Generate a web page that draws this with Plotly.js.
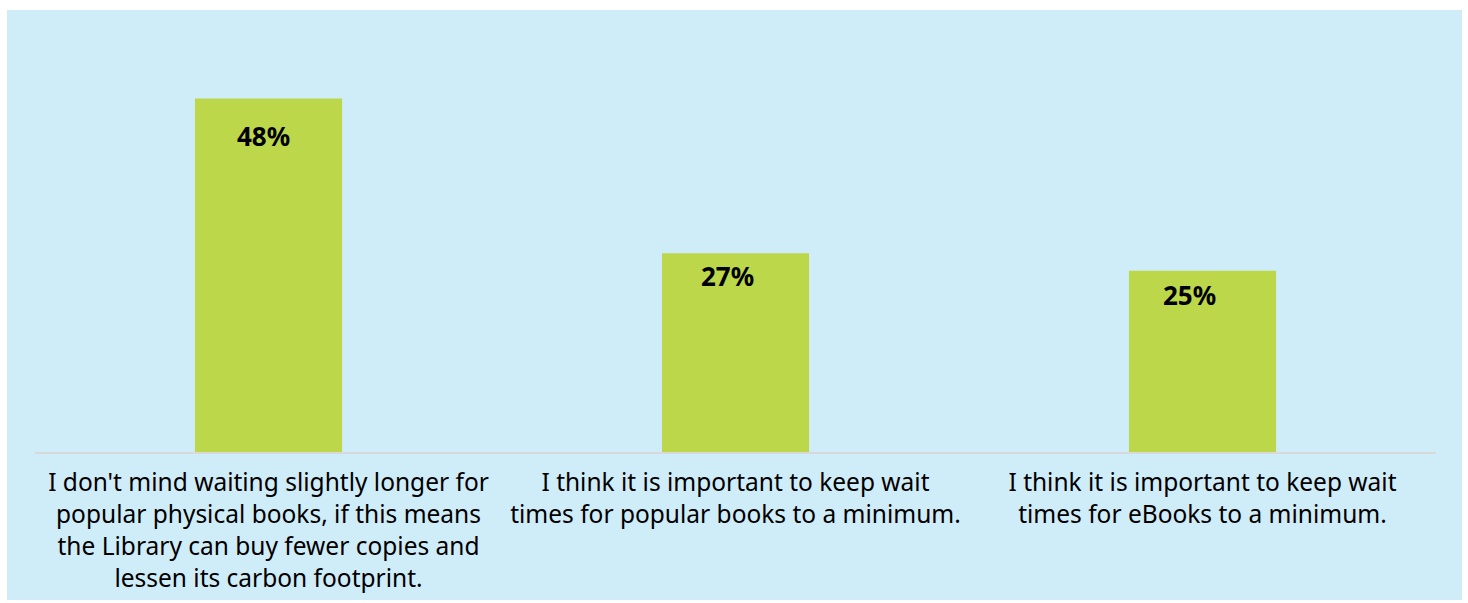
<!DOCTYPE html>
<html>
<head>
<meta charset="utf-8">
<script src="https://cdn.plot.ly/plotly-3.0.1.min.js"></script>
<style>
html,body{margin:0;padding:0;background:#ffffff;}
#chart{position:absolute;left:7px;top:10px;width:1455px;height:590px;}
</style>
</head>
<body>
<div id="chart"></div>
<script>
const categories = [
  "I don't mind waiting slightly longer for<br>popular physical books, if this means<br>the Library can buy fewer copies and<br>lessen its carbon footprint.",
  "I think it is important to keep wait<br>times for popular books to a minimum.",
  "I think it is important to keep wait<br>times for eBooks to a minimum."
];
const values = [48, 27, 24.6];
const valueLabels = ["48%", "27%", "25%"];

const trace = {
  type: 'bar',
  x: categories,
  y: values,
  marker: {color: '#BCD74A'},
  hoverinfo: 'skip'
};

const labelYShift = [-37, -23, -24];
const labelXShift = [-5, -8, -13];
const annotations = categories.map((c, i) => ({
  x: c, y: values[i], xref: 'x', yref: 'y',
  text: '<b>' + valueLabels[i] + '</b>',
  showarrow: false, yanchor: 'middle',
  yshift: labelYShift[i], xshift: labelXShift[i],
  font: {family: 'Noto Sans, sans-serif', size: 26, color: '#000000'}
}));

const layout = {
  width: 1455, height: 590,
  margin: {l: 28, r: 26, t: 37, b: 148},
  paper_bgcolor: '#CFECF9',
  plot_bgcolor: '#CFECF9',
  bargap: 0.685,
  showlegend: false,
  font: {family: 'Noto Sans, sans-serif', color: '#000000'},
  xaxis: {
    showline: true, linecolor: '#D9D9D9', linewidth: 2,
    ticks: '', showgrid: false, zeroline: false,
    tickfont: {family: 'Noto Sans, sans-serif', size: 24.5, color: '#000000'},
    ticklabelstandoff: 8
  },
  yaxis: {
    range: [0, 55], visible: false, showgrid: false, zeroline: false
  },
  annotations: annotations
};

Plotly.newPlot('chart', [trace], layout, {displayModeBar: false, staticPlot: true});
</script>
</body>
</html>
